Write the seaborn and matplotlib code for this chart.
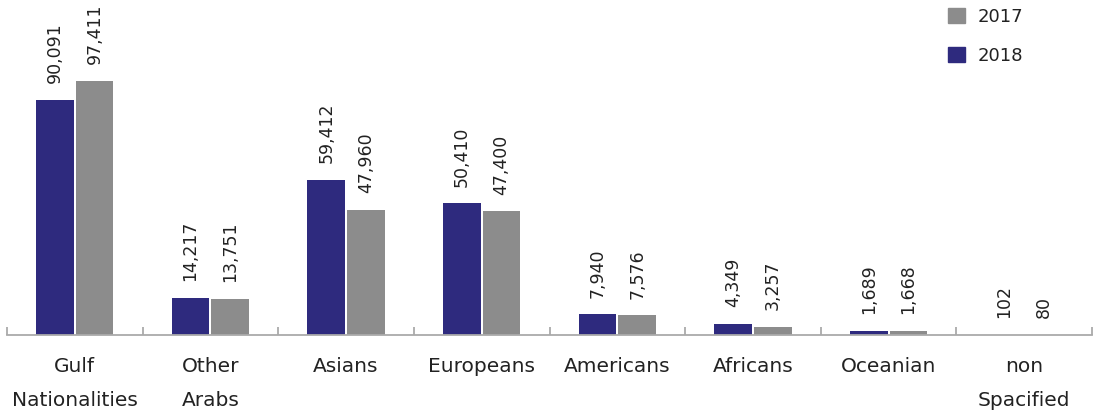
import numpy as np
import pandas as pd
import seaborn as sns
import matplotlib.pyplot as plt
from matplotlib.patches import Patch
from matplotlib.ticker import FixedLocator

# data
categories = ["Gulf\nNationalities", "Other\nArabs", "Asians", "Europeans",
              "Americans", "Africans", "Oceanian", "non\nSpacified"]
values_2018 = [90091, 14217, 59412, 50410, 7940, 4349, 1689, 102]
values_2017 = [97411, 13751, 47960, 47400, 7576, 3257, 1668, 80]
years = ["2018", "2017"]
colors = {"2018": "#2e2a7e", "2017": "#8c8c8c"}

df = pd.DataFrame({
    "category": categories * 2,
    "year": ["2018"] * len(categories) + ["2017"] * len(categories),
    "value": values_2018 + values_2017,
})

sns.set_style("white")
plt.rcParams["font.family"] = ["DejaVu Sans"]

fig = plt.figure(figsize=(10.99, 4.18), dpi=100)
ax = fig.add_axes([7 / 1099, 83 / 418, 1085 / 1099, 335 / 418])

sns.barplot(data=df, x="category", y="value", hue="year", hue_order=years,
            palette=colors, width=0.585, gap=0.05, saturation=1,
            linewidth=0, legend=False, ax=ax)

# value labels above bars
for cont, vals in zip(ax.containers, [values_2018, values_2017]):
    ax.bar_label(cont, labels=[f"{v:,}" for v in vals], rotation=90,
                 padding=12, fontsize=12.5, color="#222222")

ax.set_ylim(0, 128400)
ax.set_xlim(-0.5, len(categories) - 0.5)
ax.set_xlabel("")
ax.set_ylabel("")
ax.set_yticks([])

for s in ["top", "right", "left"]:
    ax.spines[s].set_visible(False)
ax.spines["bottom"].set_color("#aaaaaa")
ax.spines["bottom"].set_linewidth(1.3)

# category labels, separator ticks between groups
ax.tick_params(axis="x", which="major", bottom=True, length=0, pad=16,
               labelsize=14.5, labelcolor="#222222")
ax.xaxis.set_minor_locator(FixedLocator(np.arange(-0.5, len(categories), 1.0)))
ax.tick_params(axis="x", which="minor", bottom=True, direction="in", length=6,
               width=1.3, color="#aaaaaa")
for lbl in ax.get_xticklabels():
    lbl.set_linespacing(2.0)

handles = [Patch(color=colors["2017"], label="2017"),
           Patch(color=colors["2018"], label="2018")]
fig.legend(handles=handles, loc="upper left", bbox_to_anchor=(0.848, 1.02),
           frameon=False, fontsize=13, handlelength=0.95, handleheight=0.95,
           labelspacing=1.15, handletextpad=0.7, labelcolor="#222222")

fig.savefig("out.png", dpi=100)
